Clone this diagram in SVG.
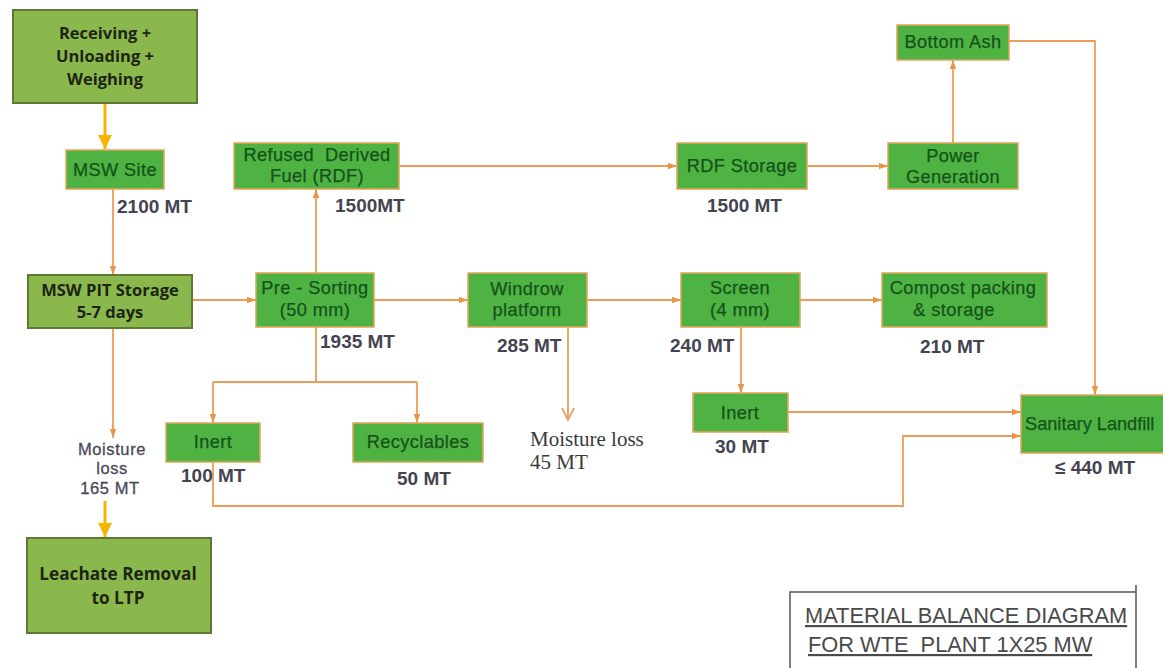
<svg xmlns="http://www.w3.org/2000/svg" width="1163" height="668" viewBox="0 0 1163 668">
<defs>
<marker id="ah" markerUnits="userSpaceOnUse" markerWidth="10" markerHeight="8" refX="9" refY="4" orient="auto">
<path d="M0,0.8 L9,4 L0,7.2 Z" fill="#e8954a"/>
</marker>
<marker id="av" markerUnits="userSpaceOnUse" markerWidth="14" markerHeight="14" refX="12" refY="7" orient="auto">
<path d="M0,1 L12,7 L0,13" fill="none" stroke="#e8a066" stroke-width="1.8"/>
</marker>
<marker id="ay" markerUnits="userSpaceOnUse" markerWidth="16" markerHeight="16" refX="14" refY="8" orient="auto">
<path d="M0,1 L14,8 L0,15 Z" fill="#f5b400"/>
</marker>
</defs>
<style>
.g{fill:#4fb343;stroke:#e3a45a;stroke-width:1.5}
.o{fill:#8ab84c;stroke:#5c7a34;stroke-width:2}
.gt{font-family:"Liberation Sans",Arial,sans-serif;font-size:18.2px;letter-spacing:0.4px;fill:#14521a;text-anchor:middle;stroke:#14521a;stroke-width:0.25}
.ot{font-family:"Open Sans","Liberation Sans",sans-serif;font-size:16.5px;font-weight:bold;fill:#1e2414;text-anchor:middle}
.lb{font-family:"Liberation Sans",Arial,sans-serif;font-size:19px;font-weight:bold;fill:#444450}
.ml{font-family:"Liberation Sans",Arial,sans-serif;font-size:16.5px;letter-spacing:0.6px;fill:#4a4858;text-anchor:middle;stroke:#4a4858;stroke-width:0.3}
.sf{font-family:"Liberation Serif","Times New Roman",serif;font-size:21px;fill:#3a3a3a}
.c{fill:none;stroke:#ec9d55;stroke-width:1.8}
.y{fill:none;stroke:#f5b400;stroke-width:3}
.tt{font-family:"Liberation Sans",Arial,sans-serif;font-size:21.8px;fill:#4a4a4a;text-decoration:underline}
</style>
<rect width="1163" height="668" fill="#ffffff"/>

<g id="connectors">
<path class="y" d="M105,103 V149" marker-end="url(#ay)"/>
<path class="c" d="M113,189 V275" marker-end="url(#ah)"/>
<path class="c" d="M192,300 H256" marker-end="url(#ah)"/>
<path class="c" d="M316,273 V189" marker-end="url(#ah)"/>
<path class="c" d="M399,166 H677" marker-end="url(#ah)"/>
<path class="c" d="M807,166 H888" marker-end="url(#ah)"/>
<path class="c" d="M953,143 V60" marker-end="url(#ah)"/>
<path class="c" d="M1009,41 H1095 V395" marker-end="url(#ah)"/>
<path class="c" d="M374,300 H468" marker-end="url(#ah)"/>
<path class="c" d="M587,300 H681" marker-end="url(#ah)"/>
<path class="c" d="M800,300 H882" marker-end="url(#ah)"/>
<path class="c" d="M316,327 V382 M213,382 H417"/>
<path class="c" d="M213,382 V423" marker-end="url(#ah)"/>
<path class="c" d="M417,382 V423" marker-end="url(#ah)"/>
<path class="c" d="M568,327 V420" marker-end="url(#av)"/>
<path class="c" d="M741,327 V393" marker-end="url(#ah)"/>
<path class="c" d="M788,412 H1021" marker-end="url(#ah)"/>
<path class="c" d="M213,462 V506 H903 V436 H1021" marker-end="url(#ah)"/>
<path class="c" d="M113,328 V438" marker-end="url(#ah)"/>
<path class="y" d="M105,501 V537" marker-end="url(#ay)"/>
</g>

<g id="receiving">
<rect class="o" x="13" y="10" width="184" height="93"/>
<text class="ot" x="105" y="39">Receiving +</text>
<text class="ot" x="105" y="62">Unloading +</text>
<text class="ot" x="105" y="85">Weighing</text>
</g>
<g id="msw-site">
<rect class="g" x="66" y="150" width="98" height="39"/>
<text class="gt" x="115" y="176">MSW Site</text>
<text class="lb" x="117" y="213">2100 MT</text>
</g>
<g id="rdf">
<rect class="g" x="234" y="143" width="165" height="46"/>
<text class="gt" x="317" y="161" xml:space="preserve">Refused  Derived</text>
<text class="gt" x="317" y="182">Fuel (RDF)</text>
<text class="lb" x="335" y="212">1500MT</text>
</g>
<g id="rdf-storage">
<rect class="g" x="677" y="143" width="130" height="46"/>
<text class="gt" x="742" y="172">RDF Storage</text>
<text class="lb" x="707" y="212">1500 MT</text>
</g>
<g id="power">
<rect class="g" x="888" y="143" width="130" height="46"/>
<text class="gt" x="953" y="162">Power</text>
<text class="gt" x="953" y="183">Generation</text>
</g>
<g id="bottom-ash">
<rect class="g" x="897" y="25" width="112" height="35"/>
<text class="gt" x="953" y="48">Bottom Ash</text>
</g>
<g id="pit">
<rect class="o" x="28" y="275" width="164" height="53"/>
<text class="ot" x="110" y="296">MSW PIT Storage</text>
<text class="ot" x="110" y="318">5-7 days</text>
</g>
<g id="presorting">
<rect class="g" x="256" y="273" width="118" height="54"/>
<text class="gt" x="315" y="294">Pre - Sorting</text>
<text class="gt" x="315" y="316">(50 mm)</text>
<text class="lb" x="320" y="348">1935 MT</text>
</g>
<g id="windrow">
<rect class="g" x="468" y="273" width="119" height="54"/>
<text class="gt" x="527" y="295">Windrow</text>
<text class="gt" x="527" y="316">platform</text>
<text class="lb" x="497" y="352">285 MT</text>
</g>
<g id="screen">
<rect class="g" x="681" y="273" width="119" height="54"/>
<text class="gt" x="740" y="294">Screen</text>
<text class="gt" x="740" y="316">(4 mm)</text>
<text class="lb" x="670" y="352">240 MT</text>
</g>
<g id="compost">
<rect class="g" x="882" y="273" width="165" height="54"/>
<text class="gt" x="963" y="294">Compost packing</text>
<text class="gt" x="954" y="316">&amp; storage</text>
<text class="lb" x="920" y="353">210 MT</text>
</g>
<g id="inert-1">
<rect class="g" x="166" y="423" width="94" height="39"/>
<text class="gt" x="213" y="448">Inert</text>
<text class="lb" x="181" y="482">100 MT</text>
</g>
<g id="recyclables">
<rect class="g" x="353" y="423" width="130" height="39"/>
<text class="gt" x="418" y="448">Recyclables</text>
<text class="lb" x="397" y="485">50 MT</text>
</g>
<g id="moisture-45">
<text class="sf" x="530" y="446">Moisture loss</text>
<text class="sf" x="530" y="469">45 MT</text>
</g>
<g id="inert-2">
<rect class="g" x="693" y="393" width="95" height="39"/>
<text class="gt" x="740" y="419">Inert</text>
<text class="lb" x="715" y="453">30 MT</text>
</g>
<g id="landfill">
<rect class="g" x="1021" y="395" width="150" height="58"/>
<text class="gt" x="1025" y="430" style="text-anchor:start;letter-spacing:0">Sanitary Landfill</text>
<text class="lb" x="1055" y="474">≤ 440 MT</text>
</g>
<g id="moisture-165">
<text class="ml" x="112" y="455">Moisture</text>
<text class="ml" x="112" y="474">loss</text>
<text class="ml" x="110" y="494">165 MT</text>
</g>
<g id="leachate">
<rect class="o" x="27" y="538" width="184" height="95"/>
<text class="ot" x="118" y="580" style="font-size:17.2px">Leachate Removal</text>
<text class="ot" x="118" y="604" style="font-size:17.2px">to LTP</text>
</g>
<g id="title">
<path d="M790,670 V592 H1136 M1136,585 V670" fill="none" stroke="#555" stroke-width="1.5"/>
<text class="tt" x="805" y="623">MATERIAL BALANCE DIAGRAM</text>
<text class="tt" x="808" y="652" xml:space="preserve">FOR WTE  PLANT 1X25 MW</text>
</g>
</svg>
